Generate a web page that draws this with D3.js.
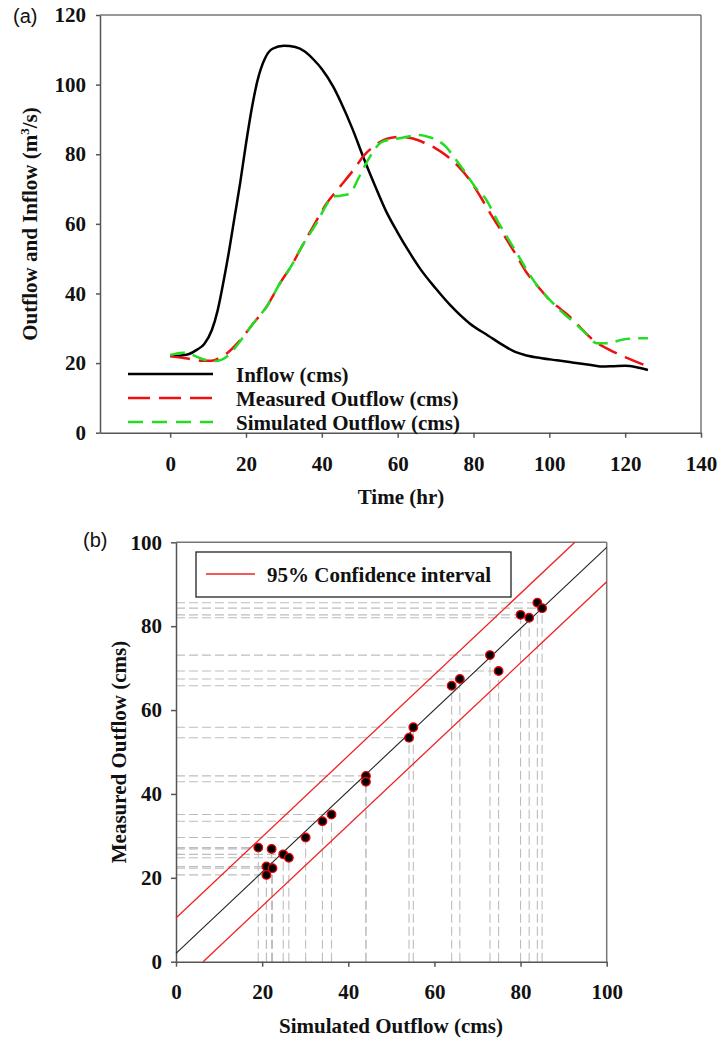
<!DOCTYPE html>
<html>
<head>
<meta charset="utf-8">
<script src="https://cdn.jsdelivr.net/npm/d3@7"></script>
<style>
  body { margin: 0; background: #fff; }
  text { font-family: "Liberation Serif", "Times New Roman", serif; font-weight: bold; fill: #111; }
  .tag { font-family: "Liberation Sans", Arial, sans-serif; font-weight: normal; font-size: 20px; }
  .axis path, .axis line { stroke: #555; stroke-width: 1.5; }
  .axis text { font-size: 21px; font-family: "Liberation Serif", "Times New Roman", serif; font-weight: bold; fill: #111; }
</style>
</head>
<body>
<svg id="chart" width="719" height="1039"></svg>
<script>
// ---- panel (a) data: hydrographs ----
var inflowTime = [0, 3, 5, 7, 9, 11, 12.5, 14, 15.5, 17, 18.5, 20, 21.5, 23, 25, 27, 30, 33, 35.5, 38, 40, 43, 45, 48, 51, 54, 57, 60, 63, 66, 70, 74, 79, 84, 88, 91, 94, 98, 102, 106, 110, 114, 117, 120, 123, 126];
var inflow     = [22, 22.2, 22.6, 23.8, 25.5, 29.5, 35, 43, 52, 62, 72, 83, 93, 101, 107.5, 110.3, 111.2, 110.8, 109.5, 107, 104.5, 99.4, 95, 87.5, 79, 71, 63.5, 57.5, 52, 47, 41.5, 36.5, 31.4, 27.8, 25, 23.2, 22.2, 21.4, 20.8, 20.2, 19.6, 19, 19.1, 19.2, 18.8, 18];

var measuredTime = [0, 4, 8, 11, 13, 15, 18, 22, 25.5, 29, 32, 34.5, 37.7, 41.3, 44.8, 48.7, 51, 54, 57, 60.5, 64, 67, 70, 73, 76, 79, 82, 85, 88, 91, 94, 97, 100, 103, 106.3, 109, 111.6, 115, 118.7, 122, 126];
var measured     = [22, 21.4, 20.7, 20.7, 21.5, 22.8, 26, 31.5, 36.3, 43, 48, 53, 59.2, 65.9, 70.7, 76, 79.5, 82.5, 84.4, 85, 84.5, 83.3, 81.7, 79.5, 76.5, 72.6, 67.5, 62, 56.8, 51.5, 46, 42, 38.2, 35.5, 32.4, 29.3, 26.6, 24.3, 22.3, 20.8, 19];

var simulatedTime = [0, 3.4, 6, 8.7, 12, 14.9, 18.4, 22, 25.5, 29, 32, 35, 38.6, 41, 42.8, 45, 47.2, 49.9, 52.7, 56, 60.6, 65.7, 68, 70.3, 72.7, 75, 78, 80.5, 83.4, 86, 88.8, 91.5, 94, 97, 100.2, 103, 106.3, 109.5, 112.5, 115.1, 119.5, 123, 126];
var simulated     = [22.3, 23, 22.3, 21.1, 20.6, 21.8, 26.2, 31.5, 36.3, 43, 48, 54, 60.2, 65, 67.8, 68.1, 68.6, 73.6, 79.3, 83.6, 84.6, 85.5, 85, 84.1, 82.2, 79, 74.5, 70.5, 66.9, 61.5, 56.3, 51.5, 46.8, 42, 38.1, 35, 31.9, 28.7, 25.7, 25.7, 26.8, 27.1, 27.1];

var timeTicks = [0, 20, 40, 60, 80, 100, 120, 140];
var flowTicks = [0, 20, 40, 60, 80, 100, 120];

// ---- panel (b) data: measured vs simulated ----
var simObs  = [19.1, 22.2, 21, 22.4, 21, 24.9, 26.2, 30.1, 34, 36.1, 44.1, 44.1, 54.1, 55.1, 64, 65.9, 72.9, 74.9, 80, 82, 83.9, 85];
var measObs = [27.2, 26.9, 22.7, 22.3, 20.7, 25.6, 24.8, 29.6, 33.5, 35.1, 44.3, 42.9, 53.4, 55.9, 65.8, 67.4, 73.1, 69.3, 82.7, 82, 85.6, 84.3];
var fitLine = [[0, 2.0], [100, 98.8]];
var upperCI = [[0, 10.4], [92.6, 100]];
var lowerCI = [[6.3, 0], [100, 90.6]];
var scatterTicks = [0, 20, 40, 60, 80, 100];

var svg = d3.select("#chart");

// ================= panel (a) =================
var xa = d3.scaleLinear().domain([-18.5, 140]).range([100, 701]);
var ya = d3.scaleLinear().domain([0, 120]).range([432.7, 15]);

// frame top / right
svg.append("line").attr("x1", 100).attr("x2", 701).attr("y1", 15).attr("y2", 15)
   .attr("stroke", "#777").attr("stroke-width", 1.5);
svg.append("line").attr("x1", 701).attr("x2", 701).attr("y1", 15).attr("y2", 432.7)
   .attr("stroke", "#777").attr("stroke-width", 1.5);

svg.append("g").attr("class", "axis")
   .attr("transform", "translate(0,432.7)")
   .call(d3.axisBottom(xa).tickValues(timeTicks).tickSize(5).tickSizeOuter(0).tickPadding(18));
svg.append("g").attr("class", "axis")
   .attr("transform", "translate(100,0)")
   .call(d3.axisLeft(ya).tickValues(flowTicks).tickSize(4).tickSizeOuter(0).tickPadding(10));

function series(t, v) { return t.map(function(d, i) { return [d, v[i]]; }); }
var lineA = d3.line()
    .x(function(d) { return xa(d[0]); })
    .y(function(d) { return ya(d[1]); })
    .curve(d3.curveMonotoneX);

svg.append("path").datum(series(inflowTime, inflow))
   .attr("d", lineA).attr("fill", "none").attr("stroke", "#000").attr("stroke-width", 2.5);
svg.append("path").datum(series(measuredTime, measured))
   .attr("d", lineA).attr("fill", "none").attr("stroke", "#ee1111").attr("stroke-width", 2.5)
   .attr("stroke-dasharray", "20,9");
svg.append("path").datum(series(simulatedTime, simulated))
   .attr("d", lineA).attr("fill", "none").attr("stroke", "#22dd22").attr("stroke-width", 2.5)
   .attr("stroke-dasharray", "15,8");

// legend (a)
var legendA = [
  { label: "Inflow (cms)", color: "#000", dash: null, y: 374 },
  { label: "Measured Outflow (cms)", color: "#ee1111", dash: "22,9", y: 398 },
  { label: "Simulated Outflow (cms)", color: "#22dd22", dash: "15,9", y: 422 }
];
legendA.forEach(function(d) {
  svg.append("line").attr("x1", 128).attr("x2", 213).attr("y1", d.y).attr("y2", d.y)
     .attr("stroke", d.color).attr("stroke-width", 2.5).attr("stroke-dasharray", d.dash);
  svg.append("text").attr("x", 236).attr("y", d.y + 8).style("font-size", "21px").text(d.label);
});

svg.append("text").attr("x", 401).attr("y", 504).attr("text-anchor", "middle")
   .style("font-size", "21px").text("Time (hr)");

var ylabA = svg.append("text").attr("transform", "translate(37,224) rotate(-90)")
   .attr("text-anchor", "middle").style("font-size", "21px");
ylabA.append("tspan").text("Outflow and Inflow (m");
ylabA.append("tspan").attr("dy", -8).style("font-size", "13px").text("3");
ylabA.append("tspan").attr("dy", 8).text("/s)");

svg.append("text").attr("class", "tag").attr("x", 13).attr("y", 23).text("(a)");

// ================= panel (b) =================
var xb = d3.scaleLinear().domain([0, 100]).range([176, 606.7]);
var yb = d3.scaleLinear().domain([0, 100]).range([961.7, 542.3]);

// guide lines from axes to each point
var guides = svg.append("g").attr("stroke", "#bdbdbd").attr("stroke-width", 1.1).attr("stroke-dasharray", "9,4");
simObs.forEach(function(s, i) {
  guides.append("line").attr("x1", xb(0)).attr("x2", xb(s)).attr("y1", yb(measObs[i])).attr("y2", yb(measObs[i]));
  guides.append("line").attr("x1", xb(s)).attr("x2", xb(s)).attr("y1", yb(0)).attr("y2", yb(measObs[i]));
});

svg.append("line").attr("x1", 176).attr("x2", 606.7).attr("y1", 542.3).attr("y2", 542.3)
   .attr("stroke", "#777").attr("stroke-width", 1.5);
svg.append("line").attr("x1", 606.7).attr("x2", 606.7).attr("y1", 542.3).attr("y2", 961.7)
   .attr("stroke", "#777").attr("stroke-width", 1.5);

svg.append("g").attr("class", "axis")
   .attr("transform", "translate(0,961.7)")
   .call(d3.axisBottom(xb).tickValues(scatterTicks).tickSize(5).tickSizeOuter(0).tickPadding(17));
svg.append("g").attr("class", "axis")
   .attr("transform", "translate(176,0)")
   .call(d3.axisLeft(yb).tickValues(scatterTicks).tickSize(5).tickSizeOuter(0).tickPadding(9));

var lineB = d3.line().x(function(d) { return xb(d[0]); }).y(function(d) { return yb(d[1]); });
svg.append("path").datum(fitLine).attr("d", lineB).attr("stroke", "#222").attr("stroke-width", 1.1).attr("fill", "none");
svg.append("path").datum(upperCI).attr("d", lineB).attr("stroke", "#e22").attr("stroke-width", 1.3).attr("fill", "none");
svg.append("path").datum(lowerCI).attr("d", lineB).attr("stroke", "#e22").attr("stroke-width", 1.3).attr("fill", "none");

svg.append("g").selectAll("circle")
   .data(simObs)
   .enter().append("circle")
   .attr("cx", function(d) { return xb(d); })
   .attr("cy", function(d, i) { return yb(measObs[i]); })
   .attr("r", 4.3)
   .attr("fill", "#000")
   .attr("stroke", "#e00")
   .attr("stroke-width", 1.3);

// legend (b)
svg.append("rect").attr("x", 196).attr("y", 552).attr("width", 315).attr("height", 45)
   .attr("fill", "#fff").attr("stroke", "#222").attr("stroke-width", 1.3);
svg.append("line").attr("x1", 206).attr("x2", 255).attr("y1", 574).attr("y2", 574)
   .attr("stroke", "#e22").attr("stroke-width", 1.3);
svg.append("text").attr("x", 267).attr("y", 582).style("font-size", "21px").text("95% Confidence interval");

svg.append("text").attr("x", 391).attr("y", 1033).attr("text-anchor", "middle")
   .style("font-size", "21px").text("Simulated Outflow (cms)");
svg.append("text").attr("transform", "translate(126,752) rotate(-90)")
   .attr("text-anchor", "middle").style("font-size", "21px").text("Measured Outflow (cms)");

svg.append("text").attr("class", "tag").attr("x", 83).attr("y", 547).text("(b)");
</script>
</body>
</html>
